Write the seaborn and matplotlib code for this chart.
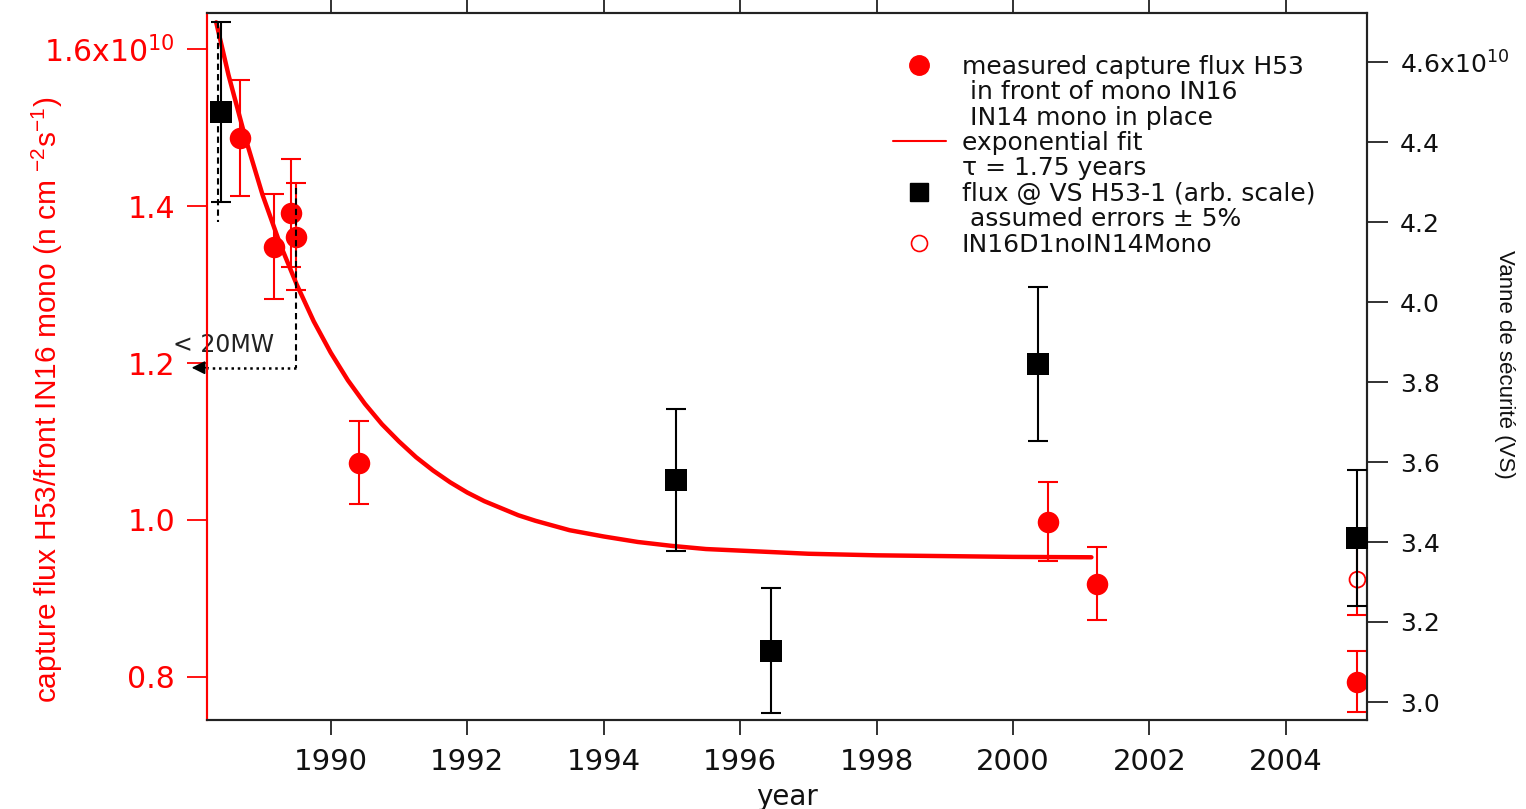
import matplotlib
matplotlib.use("Agg")
import matplotlib.pyplot as plt
from matplotlib.lines import Line2D
import seaborn as sns
import pandas as pd

# ---------------- data (flux values in units of 1e10) ----------------
red_years = [1988.67, 1989.17, 1989.41, 1989.49, 1990.41, 2000.52, 2001.23, 2005.04]
red_flux = [1.487, 1.348, 1.391, 1.361, 1.073, 0.998, 0.919, 0.794]
red_err = [0.074, 0.067, 0.069, 0.068, 0.053, 0.050, 0.046, 0.039]

open_years = [2005.05]
open_flux = [0.924]
open_err = [0.045]

vs_years = [1988.39, 1995.06, 1996.45, 2000.37, 2005.05]
vs_flux = [4.475, 3.555, 3.128, 3.845, 3.410]
vs_err = [0.224, 0.178, 0.156, 0.192, 0.170]

fit_years = [1988.32, 1988.5, 1988.75, 1989.0, 1989.25, 1989.5, 1989.75, 1990.0,
             1990.25, 1990.5, 1990.75, 1991.0, 1991.25, 1991.5, 1991.75, 1992.0,
             1992.25, 1992.5, 1992.75, 1993.0, 1993.25, 1993.5, 1993.75, 1994.0,
             1994.5, 1995.0, 1995.5, 1996.0, 1997.0, 1998.0, 1999.0, 2000.0, 2001.15]
fit_flux = [1.634, 1.567, 1.486, 1.414, 1.353, 1.300, 1.253, 1.213,
            1.178, 1.148, 1.122, 1.100, 1.080, 1.063, 1.048, 1.035,
            1.024, 1.015, 1.006, 0.999, 0.993, 0.987, 0.983, 0.979,
            0.972, 0.967, 0.963, 0.961, 0.957, 0.955, 0.954, 0.953, 0.9525]

# "< 20MW" markers
mw_line1_years = [1988.34, 1988.34]
mw_line1_flux = [1.634, 1.380]
mw_line2_years = [1989.49, 1989.49]
mw_line2_flux = [1.423, 1.194]
mw_hline_years = [1989.49, 1988.20]
mw_hline_flux = [1.194, 1.194]

left_ticks = [0.8, 1.0, 1.2, 1.4, 1.6]
left_ticklabels = ["0.8", "1.0", "1.2", "1.4", "1.6x10$^{10}$"]
right_ticks = [3.0, 3.2, 3.4, 3.6, 3.8, 4.0, 4.2, 4.4, 4.6]
right_ticklabels = ["3.0", "3.2", "3.4", "3.6", "3.8", "4.0", "4.2", "4.4", "4.6x10$^{10}$"]
x_ticks = [1990, 1992, 1994, 1996, 1998, 2000, 2002, 2004]
x_ticklabels = ["1990", "1992", "1994", "1996", "1998", "2000", "2002", "2004"]

# ---------------- style ----------------
sns.set_style("ticks")
plt.rcParams["font.family"] = ["DejaVu Sans"]
plt.rcParams["mathtext.default"] = "regular"
NARROW = ["Liberation Sans", "DejaVu Sans"]

fig = plt.figure(figsize=(15.26, 8.09), dpi=100)
fig.patch.set_facecolor("white")
ax = fig.add_axes([207 / 1526, 89 / 809, 1160 / 1526, 707 / 809])
ax2 = ax.twinx()

# fit line
fit_df = pd.DataFrame({"year": fit_years, "flux": fit_flux})
sns.lineplot(data=fit_df, x="year", y="flux", ax=ax, color="red", lw=3.2,
             sort=False, estimator=None, zorder=3, legend=False,
             solid_joinstyle="round", solid_capstyle="round")

# measured red points
ax.errorbar(red_years, red_flux, yerr=red_err, fmt="none", ecolor="red",
            elinewidth=1.5, capsize=7.5, capthick=1.5, zorder=4)
sns.scatterplot(x=red_years, y=red_flux, ax=ax, color="red", marker="o", s=240,
                edgecolor="red", linewidth=0, zorder=5, legend=False)

# open circle
ax.errorbar(open_years, open_flux, yerr=open_err, fmt="none", ecolor="red",
            elinewidth=1.5, capsize=7.5, capthick=1.5, zorder=4)
sns.scatterplot(x=open_years, y=open_flux, ax=ax, marker="o", s=130,
                facecolor="none", edgecolor="red", linewidth=1.3, zorder=5, legend=False)

# < 20MW annotation
ax.plot(mw_line1_years, mw_line1_flux, color="black", ls=(0, (3, 2)), lw=1.5, zorder=6)
ax.plot(mw_line2_years, mw_line2_flux, color="black", ls=(0, (3, 2)), lw=1.5, zorder=6)
ax.plot(mw_hline_years, mw_hline_flux, color="black", ls=(0, (1, 1.5)), lw=1.8, zorder=6)
ax.annotate("", xy=(1987.96, mw_hline_flux[0]), xytext=(mw_hline_years[1], mw_hline_flux[0]),
            arrowprops=dict(arrowstyle="-|>", color="black", lw=1.2, mutation_scale=20,
                            shrinkA=0, shrinkB=0),
            annotation_clip=False, zorder=7)
ax.text(1987.69, 1.214, "< 20MW", fontsize=17, color="#222222", ha="left", va="baseline",
        zorder=7, clip_on=False)

# VS black squares (right axis)
ax2.errorbar(vs_years, vs_flux, yerr=vs_err, fmt="none", ecolor="black",
             elinewidth=1.5, capsize=7.2, capthick=1.5, zorder=4)
sns.scatterplot(x=vs_years, y=vs_flux, ax=ax2, color="black", marker="s", s=235,
                edgecolor="black", linewidth=0, zorder=5, legend=False)

# ---------------- axes ----------------
ax.set_xlim(1988.185, 2005.19)
ax.set_ylim(0.7452, 1.6459)
ax2.set_ylim(2.955, 4.7225)

ax.set_xticks(x_ticks)
ax.set_xticklabels(x_ticklabels, fontsize=21, color="#111111")
ax.set_yticks(left_ticks)
ax.set_yticklabels(left_ticklabels, fontsize=21.5, color="red")
ax2.set_yticks(right_ticks)
ax2.set_yticklabels(right_ticklabels, fontsize=18, color="#111111")

ax.tick_params(axis="x", which="both", direction="out", length=11, width=1.3,
               color="#222222", pad=9, top=True, bottom=True, labeltop=False)
ax.tick_params(axis="y", direction="out", length=14.5, width=1.3, color="red", pad=8.5)
ax2.tick_params(axis="y", direction="out", length=15, width=1.3, color="#222222", pad=8.5)

for a in (ax, ax2):
    a.spines["left"].set_color("red")
    a.spines["right"].set_color("#222222")
    a.spines["top"].set_color("#222222")
    a.spines["bottom"].set_color("#222222")
    for s in a.spines.values():
        s.set_linewidth(1.5)
        s.set_visible(True)
    a.grid(False)

ax.set_xlabel("year", fontsize=20, color="#111111")
ax.xaxis.set_label_coords(0.5, -0.089)
ax.set_ylabel("capture flux H53/front IN16 mono (n cm $^{-2}$s$^{-1}$)", color="red",
              fontsize=21.5, family=NARROW)
ax.yaxis.set_label_coords(-0.122, 0.453)
ax2.set_ylabel("Vanne de sécurité (VS)", rotation=270, fontsize=16, family=NARROW,
               color="#111111")
ax2.yaxis.set_label_coords(1.128, 0.503)

# ---------------- legend ----------------
blank = Line2D([], [], ls="none", marker=None)
handles = [
    Line2D([], [], marker="o", color="red", ls="none", markersize=14),
    blank, blank,
    Line2D([], [], color="red", lw=1.5),
    blank,
    Line2D([], [], marker="s", color="black", ls="none", markersize=13),
    blank,
    Line2D([], [], marker="o", mfc="none", mec="red", mew=1.2, ls="none", markersize=11.5),
]
labels = ["measured capture flux H53", " in front of mono IN16", " IN14 mono in place",
          "exponential fit", "τ = 1.75 years", "flux @ VS H53-1 (arb. scale)",
          " assumed errors ± 5%", "IN16D1noIN14Mono"]
leg = ax2.legend(handles, labels, loc="upper left", bbox_to_anchor=(893 / 1526, 1 - 55 / 809),
                 bbox_transform=fig.transFigure, frameon=False, fontsize=18,
                 handlelength=2.1, handletextpad=0.64, labelspacing=0.055,
                 borderpad=0, borderaxespad=0)
for t in leg.get_texts():
    t.set_color("#111111")

fig.savefig("out.png", dpi=100, facecolor="white")
